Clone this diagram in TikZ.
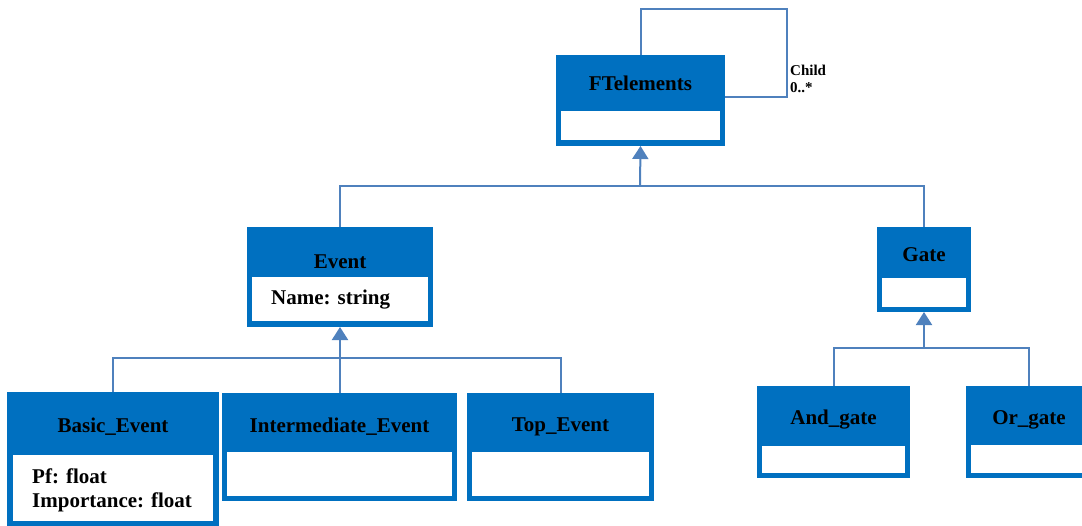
\documentclass[tikz,border=0pt]{standalone}
\usepackage{fontspec}
\setmainfont{Liberation Serif}
\usetikzlibrary{arrows.meta}
\definecolor{classblue}{HTML}{0070C0}
\definecolor{linkblue}{HTML}{4F81BD}
\tikzset{
  classbox/.style={fill=classblue, draw=none, inner sep=0pt, outer sep=0pt},
  compart/.style={fill=white},
  title/.style={font=\fontsize{21}{24}\selectfont\bfseries, inner sep=0pt, anchor=center},
  attr/.style={font=\fontsize{21}{24}\selectfont\bfseries, inner sep=0pt, anchor=west, align=left},
  small/.style={font=\fontsize{15}{17}\selectfont\bfseries, inner sep=0pt, anchor=west, align=left},
  link/.style={draw=linkblue, line width=2pt},
  inherit/.style={link, -{Triangle[width=16pt,length=13pt]}}
}
\begin{document}
\begin{tikzpicture}[x=1pt, y=-1pt]
\useasboundingbox (0,0) rectangle (1082,525);

% class boxes: blue frame with a white attribute compartment
\node[classbox, minimum width=169pt, minimum height=91pt] (ft) at (640.5,100.5) {};
\fill[compart] (561,111) rectangle (720,140);
\node[title] (ftname) at (640.5,83) {FTelements};

\node[classbox, minimum width=186pt, minimum height=100pt] (ev) at (340,277) {};
\fill[compart] (252,277) rectangle (428,321);
\node[title] (evname) at (340,262) {Event};
\node[attr] (evattr) at (271,300) {Name: string};

\node[classbox, minimum width=94pt, minimum height=85pt] (gate) at (924,269.5) {};
\fill[compart] (882,278) rectangle (966,307);
\node[title] (gatename) at (924,255) {Gate};

\node[classbox, minimum width=212pt, minimum height=135pt] (basic) at (113,459.5) {};
\fill[compart] (13,455) rectangle (213,521);
\node[title] (basicname) at (113,427) {Basic\_Event};
\node[attr, font=\fontsize{21}{24}\selectfont\bfseries, align=left] (basicattr) at (32,490) {Pf: float\\Importance: float};

\node[classbox, minimum width=235pt, minimum height=108pt] (inter) at (339.5,447) {};
\fill[compart] (227,452) rectangle (452,496);
\node[title] (intername) at (339.5,427) {Intermediate\_Event};

\node[classbox, minimum width=187pt, minimum height=108pt] (top) at (560.5,447) {};
\fill[compart] (472,452) rectangle (649,496);
\node[title] (topname) at (560.5,427) {Top\_Event};

\node[classbox, minimum width=153pt, minimum height=92pt] (and) at (833.5,432) {};
\fill[compart] (762,446) rectangle (905,473);
\node[title] (andname) at (833.5,420) {And\_gate};

\node[classbox, minimum width=126pt, minimum height=92pt] (or) at (1029,432) {};
\fill[compart] (971,445) rectangle (1087,473);
\node[title] (orname) at (1029,420) {Or\_gate};

% self association of FTelements
\coordinate (loopcorner) at (787,9);
\draw[link] (ft.north) |- (loopcorner) |- ([yshift=3.5pt]ft.east);
\node[small] (childlbl) at (790,79) {Child\\0..*};

% generalisations
\coordinate (hubft) at (640,186);
\draw[link] (ev.north) |- (hubft);
\draw[link] (gate.north) |- (hubft);
\draw[inherit] (hubft) -- (ft.south);

\coordinate (hubev) at (340,358);
\draw[link] (basic.north) |- (hubev);
\draw[link] (top.north) |- (hubev);
\draw[link] (inter.north) -- (inter.north |- hubev);
\draw[inherit] (hubev) -- (ev.south);

\coordinate (hubgate) at (924,348);
\draw[link] (and.north) |- (hubgate);
\draw[link] (or.north) |- (hubgate);
\draw[inherit] (hubgate) -- (gate.south);
\end{tikzpicture}
\end{document}
